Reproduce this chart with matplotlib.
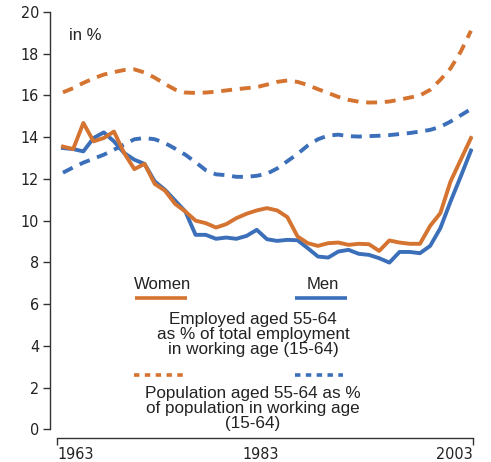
import numpy as np
import matplotlib.pyplot as plt

years = np.arange(1963, 2004)

# employed aged 55-64 as % of total employment (15-64)
women_emp = [13.55, 13.43, 14.68, 13.8, 13.96, 14.27, 13.24, 12.47, 12.72, 11.76,
             11.44, 10.8, 10.44, 10.0, 9.88, 9.67, 9.83, 10.12, 10.33, 10.49,
             10.6, 10.49, 10.17, 9.24, 8.92, 8.79, 8.92, 8.95, 8.84, 8.89,
             8.87, 8.55, 9.05, 8.95, 8.89, 8.89, 9.75, 10.36, 11.88, 12.92, 13.96]
men_emp = [13.48, 13.43, 13.32, 13.96, 14.23, 13.8, 13.24, 12.92, 12.72, 11.88,
           11.48, 10.96, 10.44, 9.32, 9.32, 9.13, 9.19, 9.13, 9.27, 9.56,
           9.11, 9.03, 9.08, 9.06, 8.68, 8.28, 8.23, 8.52, 8.6, 8.41,
           8.36, 8.2, 7.99, 8.5, 8.5, 8.44, 8.79, 9.64, 10.92, 12.12, 13.36]

# population aged 55-64 as % of population in working age
women_pop = [16.15, 16.35, 16.6, 16.82, 17.0, 17.12, 17.22, 17.25, 17.1, 16.85,
             16.55, 16.28, 16.14, 16.12, 16.14, 16.18, 16.24, 16.3, 16.35, 16.4,
             16.52, 16.65, 16.72, 16.65, 16.5, 16.3, 16.12, 15.93, 15.79, 15.7,
             15.66, 15.67, 15.71, 15.8, 15.9, 16.0, 16.27, 16.75, 17.3, 18.1, 19.1]
men_pop = [12.3, 12.55, 12.78, 12.97, 13.16, 13.4, 13.65, 13.9, 13.96, 13.9,
           13.72, 13.45, 13.16, 12.8, 12.42, 12.22, 12.18, 12.1, 12.1, 12.15,
           12.25, 12.5, 12.85, 13.2, 13.6, 13.9, 14.08, 14.12, 14.05, 14.03,
           14.05, 14.07, 14.1, 14.15, 14.2, 14.27, 14.35, 14.5, 14.75, 15.05, 15.35]

orange = '#D57330'
blue = '#3C6FB9'
tick_font = ['Liberation Sans Narrow', 'DejaVu Sans']
text_font = ['Liberation Sans', 'DejaVu Sans']

fig = plt.figure(figsize=(4.91, 4.62), dpi=100)
ax = fig.add_axes([50/491, 1 - 429.3/462, 423/491, 417.3/462])

lw = 2.8
ax.plot(years, women_pop, color=orange, lw=lw, dashes=(2.8, 2.0))
ax.plot(years, men_pop, color=blue, lw=lw, dashes=(2.8, 2.0))
ax.plot(years, men_emp, color=blue, lw=lw)
ax.plot(years, women_emp, color=orange, lw=lw)

ax.set_ylim(0, 20)
ax.set_xlim(1961.73, 2003.2)
ax.set_yticks(range(0, 21, 2))

ax.spines['top'].set_visible(False)
ax.spines['right'].set_visible(False)
ax.spines['bottom'].set_position(('outward', 6))
ax.spines['bottom'].set_bounds(1962.45, 2003.2)
for s in ('left', 'bottom'):
    ax.spines[s].set_linewidth(1.0)
    ax.spines[s].set_color('#333333')

ax.tick_params(axis='y', length=5, width=1.0, pad=3, color='#333333')
ax.tick_params(axis='x', length=5, width=1.0, pad=2, color='#333333')
ax.set_xticks([1962.45, 1982.4, 2003.2], labels=['1963', '1983', '2003'])
xt = ax.xaxis.get_major_ticks()
xt[1].tick1line.set_visible(False)
for lab, ha in zip(ax.get_xticklabels(), ['left', 'center', 'right']):
    lab.set_horizontalalignment(ha)
for lab in ax.get_xticklabels() + ax.get_yticklabels():
    lab.set_family(tick_font)
    lab.set_stretch('condensed')
    lab.set_fontsize(11.5)
    lab.set_color('#222222')

ax.text(0.045, 0.943, 'in %', transform=ax.transAxes, fontsize=12,
        family=text_font, va='center', ha='left', color='#222222')

# legend drawn by hand
tr = ax.transAxes
ax.text(0.265, 0.346, 'Women', transform=tr, fontsize=12, family=text_font,
        ha='center', va='center', color='#222222')
ax.text(0.645, 0.346, 'Men', transform=tr, fontsize=12, family=text_font,
        ha='center', va='center', color='#222222')
ax.plot([0.201, 0.324], [0.315, 0.315], transform=tr, color=orange, lw=2.6,
        solid_capstyle='butt', clip_on=False)
ax.plot([0.579, 0.702], [0.315, 0.315], transform=tr, color=blue, lw=2.6,
        solid_capstyle='butt', clip_on=False)
ax.text(0.48, 0.228, 'Employed aged 55-64\nas % of total employment\nin working age (15-64)',
        transform=tr, fontsize=12.3, family=text_font, ha='center', va='center',
        multialignment='center', linespacing=1.0, color='#222222')
ax.plot([0.199, 0.314], [0.130, 0.130], transform=tr, color=orange, lw=2.6,
        dashes=(1.5, 1.5), solid_capstyle='butt', clip_on=False)
ax.plot([0.579, 0.693], [0.130, 0.130], transform=tr, color=blue, lw=2.6,
        dashes=(1.5, 1.5), solid_capstyle='butt', clip_on=False)
ax.text(0.48, 0.051, 'Population aged 55-64 as %\nof population in working age\n(15-64)',
        transform=tr, fontsize=12.3, family=text_font, ha='center', va='center',
        multialignment='center', linespacing=1.0, color='#222222')

fig.savefig('out.png', dpi=100)
